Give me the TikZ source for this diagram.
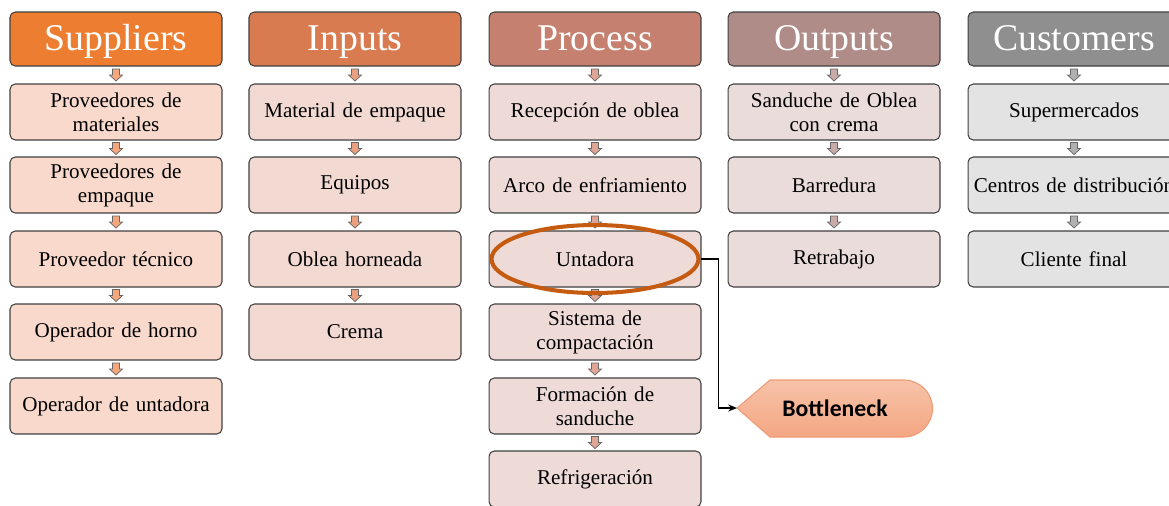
\documentclass[tikz,border=0pt]{standalone}
\usepackage{fontspec}
\setmainfont{Liberation Serif}
\newfontfamily\calibrifont{Carlito}
\usetikzlibrary{shapes.geometric,calc,arrows.meta}

\definecolor{supHead}{HTML}{ED7D31}
\definecolor{supBox}{HTML}{F8D9CC}
\definecolor{supArr}{HTML}{F4A77C}
\definecolor{inpHead}{HTML}{D97B51}
\definecolor{inpBox}{HTML}{F2DAD2}
\definecolor{inpArr}{HTML}{E8A07E}
\definecolor{proHead}{HTML}{C6806F}
\definecolor{proBox}{HTML}{EEDBD7}
\definecolor{proArr}{HTML}{DFA595}
\definecolor{outHead}{HTML}{B08C88}
\definecolor{outBox}{HTML}{EADCDA}
\definecolor{outArr}{HTML}{C8AAA6}
\definecolor{cusHead}{HTML}{8F8F8F}
\definecolor{cusBox}{HTML}{E3E3E3}
\definecolor{cusArr}{HTML}{B0B0B0}
\definecolor{hlLine}{HTML}{C55A11}
\definecolor{bnTop}{HTML}{F7C3A8}
\definecolor{bnBot}{HTML}{F4A683}
\definecolor{bnLine}{HTML}{EE9B75}

\tikzset{
	box/.style={draw=black!75, rounded corners=3pt, line width=0.6pt, minimum width=4.24cm, minimum height=1.12cm, text width=3.9cm, align=center, font=\fontsize{12}{13.6}\selectfont},
	head/.style={box, minimum height=1.08cm, text=white, text height=16pt, text depth=3pt, font=\fontsize{21.5}{24}\selectfont},
}

\newcommand{\flowarrow}[3]{%
	\path ($(#1.south)!0.5!(#2.north)$) coordinate (fa);
	\draw[draw=black!60, fill=#3, line width=0.4pt] ([shift={(-3.5,-6)}]fa) -- ([shift={(3.5,-6)}]fa) -- ([shift={(3.5,0)}]fa) -- ([shift={(6.5,0)}]fa) -- ([shift={(0,6)}]fa) -- ([shift={(-6.5,0)}]fa) -- ([shift={(-3.5,0)}]fa) -- cycle;
}

\begin{document}
\begin{tikzpicture}[x=0.02cm, y=-0.02cm]
	\clip (0,0) rectangle (1169,505);

	\node[head, fill=supHead] (sh) at (116,39) {Suppliers};
	\node[box, fill=supBox] (s1) at (116,112) {Proveedores de\\materiales};
	\node[box, fill=supBox] (s2) at (116,185) {Proveedores de\\empaque};
	\node[box, fill=supBox] (s3) at (116,259) {Proveedor técnico};
	\node[box, fill=supBox] (s4) at (116,332) {Operador de horno};
	\node[box, fill=supBox] (s5) at (116,406) {Operador de untadora};

	\node[head, fill=inpHead] (ih) at (355,39) {Inputs};
	\node[box, fill=inpBox] (i1) at (355,112) {Material de empaque};
	\node[box, fill=inpBox] (i2) at (355,185) {Equipos};
	\node[box, fill=inpBox] (i3) at (355,259) {Oblea horneada};
	\node[box, fill=inpBox] (i4) at (355,332) {Crema};

	\node[head, fill=proHead] (ph) at (595,39) {Process};
	\node[box, fill=proBox] (p1) at (595,112) {Recepción de oblea};
	\node[box, fill=proBox] (p2) at (595,185) {Arco de enfriamiento};
	\node[box, fill=proBox] (p3) at (595,259) {Untadora};
	\node[box, fill=proBox] (p4) at (595,332) {Sistema de\\compactación};
	\node[box, fill=proBox] (p5) at (595,406) {Formación de\\sanduche};
	\node[box, fill=proBox] (p6) at (595,479) {Refrigeración};

	\node[head, fill=outHead] (oh) at (834,39) {Outputs};
	\node[box, fill=outBox] (o1) at (834,112) {Sanduche de Oblea\\con crema};
	\node[box, fill=outBox] (o2) at (834,185) {Barredura};
	\node[box, fill=outBox] (o3) at (834,259) {Retrabajo};

	\node[head, fill=cusHead] (ch) at (1074,39) {Customers};
	\node[box, fill=cusBox] (c1) at (1074,112) {Supermercados};
	\node[box, fill=cusBox] (c2) at (1074,185) {\makebox[3.9cm]{Centros de distribución}};
	\node[box, fill=cusBox] (c3) at (1074,259) {Cliente final};

	\foreach \a/\b in {sh/s1, s1/s2, s2/s3, s3/s4, s4/s5}
		\flowarrow{\a}{\b}{supArr};
	\foreach \a/\b in {ih/i1, i1/i2, i2/i3, i3/i4}
		\flowarrow{\a}{\b}{inpArr};
	\foreach \a/\b in {ph/p1, p1/p2, p2/p3, p3/p4, p4/p5, p5/p6}
		\flowarrow{\a}{\b}{proArr};
	\foreach \a/\b in {oh/o1, o1/o2, o2/o3}
		\flowarrow{\a}{\b}{outArr};
	\foreach \a/\b in {ch/c1, c1/c2, c2/c3}
		\flowarrow{\a}{\b}{cusArr};

	\node[ellipse, draw=hlLine, line width=2.3pt, minimum width=4.14cm, minimum height=1.36cm] (hl) at (p3.center) {};

	\draw[draw=bnLine, line width=0.6pt, top color=bnTop, bottom color=bnBot] (737,408) -- (770,380) -- (904,380) .. controls (919.7,380) and (932.5,392.8) .. (932.5,408.5) .. controls (932.5,424.2) and (919.7,437) .. (904,437) -- (770,437) -- cycle;
	\coordinate (bntip) at (737,408);
	\node[font=\calibrifont\bfseries\fontsize{13.5}{16}\selectfont] (bn) at (835,408) {Bottleneck};

	\draw[-{Stealth[length=5pt, width=4pt]}, line width=0.8pt] (hl.east) -- ++(18,0) |- (bntip);
\end{tikzpicture}
\end{document}
